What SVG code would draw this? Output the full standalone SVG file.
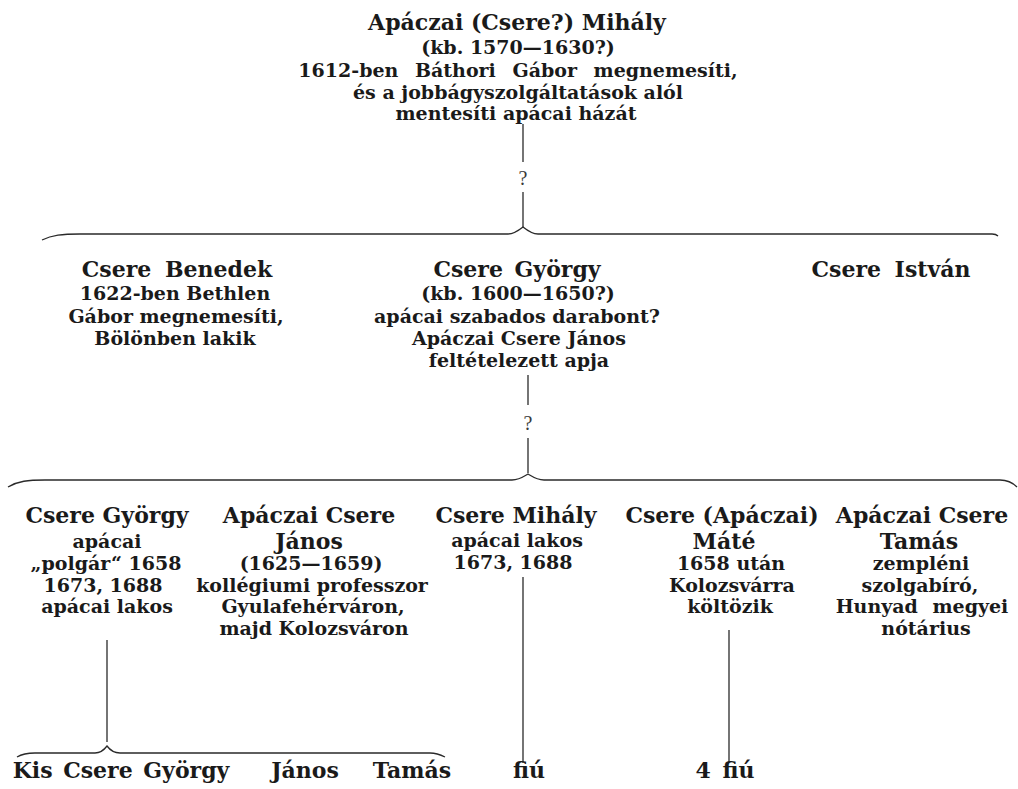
<svg xmlns="http://www.w3.org/2000/svg" width="1018" height="789" viewBox="0 0 1018 789">
<style>
text { font-family: "DejaVu Serif", "Liberation Serif", serif; fill: #1a1a1a; text-anchor: middle; font-weight: bold; }
.nm { font-size: 22px; }
.sb { font-size: 19px; }
.q { font-family: "Liberation Serif", serif; font-weight: normal; font-size: 20px; fill: #3a3a3a; }
.ln { fill: none; stroke: #2a2a2a; stroke-width: 1.3; }
</style>
<rect width="1018" height="789" fill="#ffffff"/>
<g id="connectors">
  <line class="ln" x1="523" y1="124" x2="523" y2="162"/>
  <text class="q" x="523" y="185">?</text>
  <line class="ln" x1="523" y1="192" x2="523" y2="228"/>
  <path class="ln" d="M42,240 C52,235 62,234 80,234 L508,234 C514,234 518,231 523,227 C528,231 532,234 538,234 L992,234 C995,234 997,235 998,236"/>
  <line class="ln" x1="528" y1="375" x2="528" y2="405"/>
  <text class="q" x="528" y="430">?</text>
  <line class="ln" x1="528" y1="438" x2="528" y2="473"/>
  <path class="ln" d="M8,487 C18,481 28,480 45,480 L512,480 C519,480 523,477 528,474 C533,477 537,480 544,480 L1000,480 C1008,480 1013,483 1017,487"/>
  <line class="ln" x1="107" y1="640" x2="107" y2="742"/>
  <path class="ln" d="M17,757 C22,754 27,753 35,753 L95,753 C100,753 104,750 107,746 C110,750 114,753 120,753 L430,753 C437,753 441,755 445,757"/>
  <line class="ln" x1="523" y1="577" x2="523" y2="763"/>
  <line class="ln" x1="729" y1="630" x2="729" y2="762"/>
</g>
<g id="apaczai-mihaly">
  <text class="nm" x="517" y="30">Apáczai (Csere?) Mihály</text>
  <text class="sb" x="518" y="54">(kb. 1570—1630?)</text>
  <text class="sb" x="518" y="77" word-spacing="10">1612-ben Báthori Gábor megnemesíti,</text>
  <text class="sb" x="518" y="99">és a jobbágyszolgáltatások alól</text>
  <text class="sb" x="516" y="120">mentesíti apácai házát</text>
</g>
<g id="csere-benedek">
  <text class="nm" x="177" y="277" word-spacing="6">Csere Benedek</text>
  <text class="sb" x="175" y="300">1622-ben Bethlen</text>
  <text class="sb" x="176" y="323">Gábor megnemesíti,</text>
  <text class="sb" x="175" y="345">Bölönben lakik</text>
</g>
<g id="csere-gyorgy-1">
  <text class="nm" x="517" y="277" word-spacing="4">Csere György</text>
  <text class="sb" x="518" y="300">(kb. 1600—1650?)</text>
  <text class="sb" x="517" y="323">apácai szabados darabont?</text>
  <text class="sb" x="519" y="345">Apáczai Csere János</text>
  <text class="sb" x="519" y="367">feltételezett apja</text>
</g>
<g id="csere-istvan">
  <text class="nm" x="891" y="277" word-spacing="6">Csere István</text>
</g>
<g id="csere-gyorgy-2">
  <text class="nm" x="107" y="523">Csere György</text>
  <text class="sb" x="107" y="548">apácai</text>
  <text class="sb" x="106" y="570">„polgár“ 1658</text>
  <text class="sb" x="103" y="592">1673, 1688</text>
  <text class="sb" x="107" y="613">apácai lakos</text>
</g>
<g id="apaczai-csere-janos">
  <text class="nm" x="309" y="523">Apáczai Csere</text>
  <text class="nm" x="309" y="549">János</text>
  <text class="sb" x="311" y="570">(1625—1659)</text>
  <text class="sb" x="312" y="592">kollégiumi professzor</text>
  <text class="sb" x="313" y="613">Gyulafehérváron,</text>
  <text class="sb" x="314" y="635">majd Kolozsváron</text>
</g>
<g id="csere-mihaly">
  <text class="nm" x="516" y="523">Csere Mihály</text>
  <text class="sb" x="517" y="547">apácai lakos</text>
  <text class="sb" x="513" y="569">1673, 1688</text>
</g>
<g id="csere-mate">
  <text class="nm" x="722" y="523">Csere (Apáczai)</text>
  <text class="nm" x="724" y="549">Máté</text>
  <text class="sb" x="731" y="570">1658 után</text>
  <text class="sb" x="732" y="592">Kolozsvárra</text>
  <text class="sb" x="730" y="613">költözik</text>
</g>
<g id="apaczai-csere-tamas">
  <text class="nm" x="922" y="523">Apáczai Csere</text>
  <text class="nm" x="919" y="549">Tamás</text>
  <text class="sb" x="921" y="570">zempléni</text>
  <text class="sb" x="920" y="592">szolgabíró,</text>
  <text class="sb" x="922" y="613" word-spacing="8">Hunyad megyei</text>
  <text class="sb" x="926" y="635">nótárius</text>
</g>
<g id="kis-csere-gyorgy">
  <text class="nm" x="121" y="778" font-size="23" word-spacing="3">Kis Csere György</text>
</g>
<g id="janos">
  <text class="nm" x="305" y="778">János</text>
</g>
<g id="tamas">
  <text class="nm" x="412" y="778">Tamás</text>
</g>
<g id="fiu">
  <text class="nm" x="529" y="778">fiú</text>
</g>
<g id="negy-fiu">
  <text class="nm" x="725" y="778" word-spacing="4">4 fiú</text>
</g>
</svg>
